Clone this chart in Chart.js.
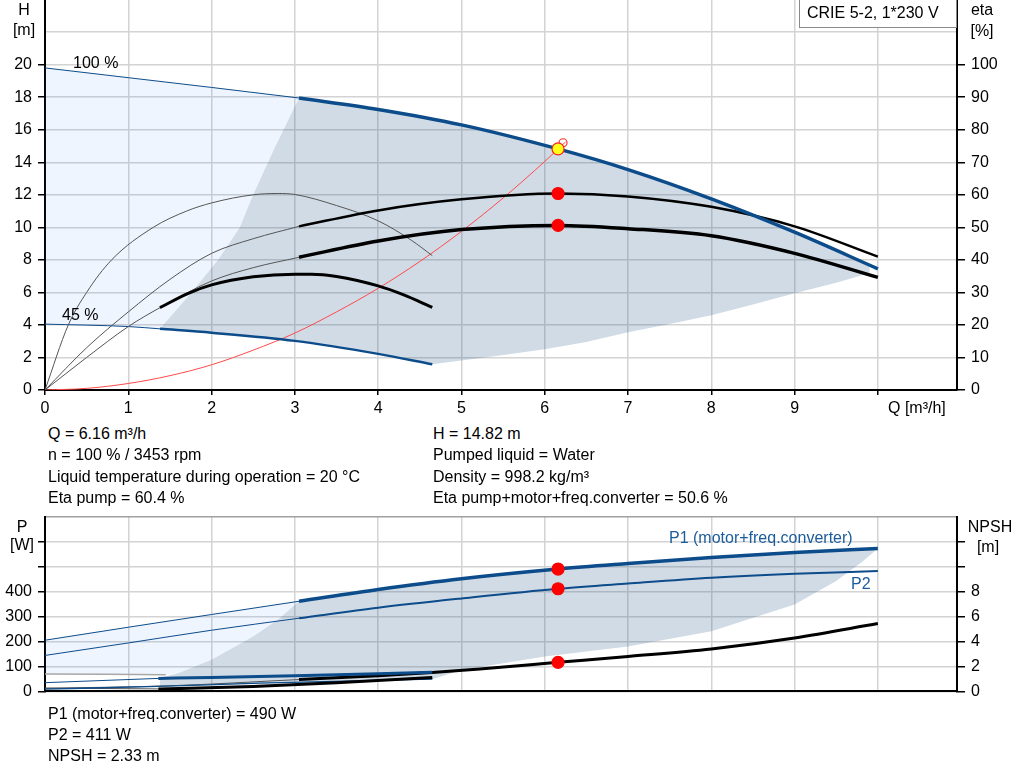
<!DOCTYPE html>
<html lang="en">
<head>
    <meta charset="UTF-8">
    <title>CRIE 5-2 pump curves</title>
    <script src="https://cdn.jsdelivr.net/npm/chart.js"></script>
    <style>
        body { margin: 0; background: #fff; font-family: "Liberation Sans", Arial, sans-serif; font-size: 16px; color: #000; }
        #page { position: relative; width: 1024px; height: 781px; overflow: hidden; }
        canvas { position: absolute; left: 0; }
        .t { position: absolute; white-space: nowrap; line-height: 18px; z-index: 2; }
        .c { text-align: center; }
        .blue { color: #1b5c9c; }
        #model { position: absolute; left: 799px; top: -1px; width: 158px; height: 29px; border: 1px solid #8a8a8a; box-sizing: border-box; background: #fff; z-index: 2; }
    </style>
</head>
<body>
<div id="page">
    <div class="t c" style="left:4px;width:40px;top:1px">H</div>
    <div class="t c" style="left:4px;width:40px;top:21px">[m]</div>
    <div class="t c" style="left:962px;width:40px;top:1px">eta</div>
    <div class="t c" style="left:962px;width:40px;top:22px">[%]</div>
    <div id="model"><div class="t" style="left:7px;top:4px">CRIE 5-2, 1*230 V</div></div>
    <div class="t" style="left:73px;top:54px">100 %</div>
    <div class="t" style="left:62px;top:306px">45 %</div>
    <div class="t" style="left:888px;top:399px">Q [m³/h]</div>

    <div class="t" style="left:48px;top:425px">Q = 6.16 m³/h</div>
    <div class="t" style="left:48px;top:446px">n = 100 % / 3453 rpm</div>
    <div class="t" style="left:48px;top:468px">Liquid temperature during operation = 20 °C</div>
    <div class="t" style="left:48px;top:489px">Eta pump = 60.4 %</div>
    <div class="t" style="left:433px;top:425px">H = 14.82 m</div>
    <div class="t" style="left:433px;top:446px">Pumped liquid = Water</div>
    <div class="t" style="left:433px;top:468px">Density = 998.2 kg/m³</div>
    <div class="t" style="left:433px;top:489px">Eta pump+motor+freq.converter = 50.6 %</div>

    <div class="t c" style="left:2px;width:40px;top:518px">P</div>
    <div class="t c" style="left:2px;width:40px;top:536px">[W]</div>
    <div class="t c" style="left:966px;width:48px;top:518px">NPSH</div>
    <div class="t c" style="left:966px;width:44px;top:538px">[m]</div>
    <div class="t blue" style="left:669px;top:529px">P1 (motor+freq.converter)</div>
    <div class="t blue" style="left:851px;top:575px">P2</div>

    <div class="t" style="left:48px;top:705px">P1 (motor+freq.converter) = 490 W</div>
    <div class="t" style="left:48px;top:726px">P2 = 411 W</div>
    <div class="t" style="left:48px;top:747px">NPSH = 2.33 m</div>
</div>

<script>
    // ---- head / efficiency chart data (Q in m³/h) ----
    const head100Thin = [[0, 19.8], [1, 19.2], [2, 18.6], [3.05, 17.95]];
    const head100 = [[3.05, 17.95], [4, 17.25], [5, 16.3], [6.16, 14.82], [7, 13.55], [8, 11.75], [9, 9.7], [10, 7.45]];
    const head45Thin = [[0, 4.05], [1, 3.9], [1.38, 3.76]];
    const head45 = [[1.38, 3.76], [2, 3.52], [3, 3.02], [4, 2.22], [4.65, 1.58]];
    const systemCurve = [[0, 0], [0.5, 0.1], [1, 0.4], [1.5, 0.88], [2, 1.55], [2.5, 2.45], [3, 3.5], [3.5, 4.8],
        [4, 6.25], [4.5, 7.9], [5, 9.75], [5.5, 11.8], [6, 14.05], [6.16, 14.82], [6.25, 15.25]];

    const etaPump100Thin = [[0, 0], [0.5, 13], [1, 24], [1.5, 34], [2, 42], [2.5, 46.5], [3.05, 50.3]];
    const etaPump100 = [[3.05, 50.3], [4, 55.2], [5, 58.6], [6.16, 60.4], [7, 59.5], [8, 56.3], [9, 50.3], [10, 41]];
    const etaTotal100Thin = [[0, 0], [0.5, 10], [1, 19.5], [1.38, 25.3], [2, 33.5], [2.5, 37.6], [3.05, 40.8]];
    const etaTotal100 = [[3.05, 40.8], [4, 45.8], [5, 49.3], [6.16, 50.6], [7, 49.6], [8, 47.4], [9, 42], [10, 34.6]];
    const etaTotal45 = [[1.38, 25.3], [1.7, 29.5], [2, 32.3], [2.5, 34.8], [3, 35.6], [3.2, 35.6], [3.5, 34.9],
        [4, 32], [4.3, 29.3], [4.65, 25.4]];
    const etaPump45 = [[0, 0], [0.28, 20], [0.5, 30], [0.8, 40], [1.3, 50], [1.7, 55], [2, 57.5], [2.5, 60],
        [2.8, 60.4], [3, 60.1], [3.5, 56.7], [4, 52], [4.4, 46], [4.65, 41.3]];

    const dutyPoint = [[6.16, 14.82]];
    const dutyMarker = [[6.22, 15.2]];
    const etaDots = [[6.16, 60.4], [6.16, 50.6]];

    const rangeLight = [[0, 19.8], [1, 19.2], [2, 18.6], [3.05, 17.95], [2.75, 14.8], [2.5, 12], [2.34, 10],
        [2.08, 8], [1.76, 6], [1.38, 3.76], [1, 3.9], [0, 4.05]];
    const rangeDark = [[3.05, 17.95], [3.5, 17.65], [4, 17.25], [4.5, 16.8], [5, 16.3], [5.6, 15.6], [6.16, 14.82],
        [7, 13.55], [7.5, 12.7], [8, 11.75], [8.5, 10.75], [9, 9.7], [9.5, 8.6], [9.9, 7.68], [9.9, 7.2],
        [9.5, 6.6], [9, 5.95], [8.5, 5.25], [8, 4.6], [7.5, 4.05], [7, 3.55], [6.5, 2.95], [6, 2.5], [5.46, 2.12],
        [4.65, 1.58], [4, 2.22], [3, 3.02], [2, 3.52], [1.38, 3.76], [1.76, 6], [2.08, 8], [2.34, 10],
        [2.5, 12], [2.75, 14.8], [3.05, 17.95]];

    // ---- power / NPSH chart data ----
    const p1Thin = [[0, 205], [1, 257], [2, 308], [3.05, 361]];
    const p1 = [[3.05, 361], [4, 408], [5, 451], [6.16, 490], [7, 512], [8, 536], [9, 556], [10, 572]];
    const p2Thin = [[0, 144], [1, 194], [2, 245], [3.05, 293]];
    const p2 = [[3.05, 293], [4, 335], [5, 372], [6.16, 411], [7, 432], [8, 455], [9, 471], [10, 482]];
    const p1Low45Thin = [[0, 35], [1.36, 52]];
    const p1Low45 = [[1.36, 52], [2, 56], [3, 63], [4, 71], [4.65, 77]];
    const p2Low45 = [[0, 9], [1.36, 20], [2.58, 33], [4.65, 49]];
    const pEdge = [[0, 70], [1.45, 67]];
    const npsh100Thin = [[0, 0.25], [1.5, 0.45], [3.05, 0.95]];
    const npsh100 = [[3.05, 0.95], [4, 1.25], [4.65, 1.52], [5.22, 1.8], [6.16, 2.33], [7, 2.8], [8, 3.4], [9, 4.28], [10, 5.43]];
    const npsh45Thin = [[0, 0.26], [1.36, 0.2]];
    const npsh45 = [[1.36, 0.2], [2.5, 0.4], [3.5, 0.7], [4.65, 1.12]];
    const powerDots = [[6.16, 490], [6.16, 411]];
    const npshDots = [[6.16, 2.33]];

    const pRangeLight = [[0, 205], [1, 257], [2, 308], [3.05, 361], [2.8, 288], [2.5, 220], [2, 127],
        [1.6, 73], [1.45, 66], [0, 70]];
    const pRangeDark = [[3.05, 361], [4, 408], [5, 451], [6.16, 490], [7, 512], [8, 536], [9, 556], [10, 572],
        [9.8, 516], [9.5, 442], [9, 348], [8, 241], [7, 180], [6, 140], [5.5, 113], [5, 86], [4.65, 49],
        [2.58, 33], [1.38, 20], [1.38, 55], [1.6, 73], [2, 127], [2.5, 220], [2.8, 288], [3.05, 361]];

    const xTicks = [0, 1, 2, 3, 4, 5, 6, 7, 8, 9, 10];

    const BLUE = '#0d4c8b';
    const GRID = '#d3d3d3';
    const FONT = {family: '"Liberation Sans", Arial, sans-serif', size: 16};
    const LIGHT = 'rgba(60,140,240,0.087)';
    const DARK = 'rgba(40,90,140,0.22)';

    function pts(arr) {
        return arr.map(p => ({x: p[0], y: p[1]}));
    }

    function curve(data, axis, color, width, order) {
        return {
            data: pts(data), yAxisID: axis, borderColor: color, borderWidth: width,
            pointRadius: 0, fill: false, order: order, cubicInterpolationMode: 'monotone'
        };
    }

    function area(data, axis, color, order) {
        return {
            data: pts(data), yAxisID: axis, borderWidth: 0, borderColor: 'rgba(0,0,0,0)',
            backgroundColor: color, pointRadius: 0, fill: 'shape', tension: 0, order: order
        };
    }

    function dots(data, axis, fillColor, edge, radius, order) {
        return {
            data: pts(data), yAxisID: axis, showLine: false, pointRadius: radius,
            pointBackgroundColor: fillColor, pointBorderColor: edge, pointBorderWidth: 1.2, order: order
        };
    }

    function xScale(showTicks, height) {
        return {
            type: 'linear', min: 0, max: 10.95,
            afterBuildTicks: s => { s.ticks = xTicks.map(v => ({value: v})); },
            ticks: {
                display: showTicks, font: FONT, color: '#000', padding: 4, maxRotation: 0, autoSkip: false,
                callback: v => (v <= 9 ? v : '')
            },
            grid: {color: GRID, lineWidth: 1.5, drawTicks: showTicks, tickLength: 5, tickColor: '#000', tickWidth: 1.5},
            border: {color: '#000', width: 2},
            afterFit: s => { s.height = height; }
        };
    }

    function yScale(pos, min, max, step, labelMax, tickMax, width, tickLen, onChart, topColor) {
        return {
            type: 'linear', position: pos, min: min, max: max,
            ticks: {
                stepSize: step, font: FONT, color: '#000', padding: 6,
                callback: v => (v <= labelMax ? v : '')
            },
            grid: {
                drawOnChartArea: onChart, lineWidth: 1.5, tickLength: tickLen, tickWidth: 1.5,
                color: c => (c.tick && c.tick.value >= max ? topColor : GRID),
                tickColor: c => (c.tick && c.tick.value > tickMax ? 'rgba(0,0,0,0)' : '#000')
            },
            border: {color: '#000', width: 2},
            afterFit: s => { s.width = width; }
        };
    }

    function baseOptions(scales) {
        return {
            responsive: false, animation: false, devicePixelRatio: 1,
            plugins: {legend: {display: false}, tooltip: {enabled: false}},
            layout: {autoPadding: false, padding: 0},
            scales: scales
        };
    }

    function headConfig() {
        return {
            type: 'line',
            data: {
                datasets: [
                    area(rangeLight, 'y', LIGHT, 20),
                    area(rangeDark, 'y', DARK, 19),
                    curve(systemCurve, 'y', '#ff4a4a', 1, 8),
                    curve(etaPump45, 'y2', '#555', 1, 7),
                    curve(etaPump100Thin, 'y2', '#555', 1, 7),
                    curve(etaTotal100Thin, 'y2', '#555', 1, 7),
                    curve(head100Thin, 'y', BLUE, 1, 7),
                    curve(head45Thin, 'y', BLUE, 1, 7),
                    curve(etaPump100, 'y2', '#000', 2.5, 5),
                    curve(etaTotal100, 'y2', '#000', 3.5, 5),
                    curve(etaTotal45, 'y2', '#000', 3, 5),
                    curve(head45, 'y', BLUE, 2.5, 4),
                    curve(head100, 'y', BLUE, 3.5, 4),
                    dots(dutyMarker, 'y', 'rgba(0,0,0,0)', '#ff3030', 4, 3),
                    dots(etaDots, 'y2', '#ff0000', '#ff0000', 6, 2),
                    dots(dutyPoint, 'y', '#ffff1a', '#ff2020', 6, 1)
                ]
            },
            options: baseOptions({
                x: xScale(true, 30),
                y: yScale('left', 0, 24, 2, 20, 20, 45, 7, true, 'rgba(0,0,0,0)'),
                y2: yScale('right', 0, 120, 10, 100, 100, 67, 8, false, 'rgba(0,0,0,0)')
            })
        };
    }

    function powerConfig() {
        return {
            type: 'line',
            data: {
                datasets: [
                    area(pRangeLight, 'y', LIGHT, 20),
                    area(pRangeDark, 'y', DARK, 19),
                    curve(pEdge, 'y', '#a8a8a8', 1.5, 8),
                    curve(p1Thin, 'y', BLUE, 1, 7),
                    curve(p2Thin, 'y', BLUE, 1, 7),
                    curve(p1Low45Thin, 'y', BLUE, 1, 7),
                    curve(p2Low45, 'y', BLUE, 1.3, 7),
                    curve(npsh100Thin, 'y2', '#555', 1, 7),
                    curve(npsh45Thin, 'y2', '#555', 1, 7),
                    curve(npsh45, 'y2', '#000', 3, 6),
                    curve(npsh100, 'y2', '#000', 3, 6),
                    curve(p1Low45, 'y', BLUE, 3, 5),
                    curve(p2, 'y', BLUE, 2, 4),
                    curve(p1, 'y', BLUE, 3.5, 4),
                    dots(powerDots, 'y', '#ff0000', '#ff0000', 6, 2),
                    dots(npshDots, 'y2', '#ff0000', '#ff0000', 6, 2)
                ]
            },
            options: baseOptions({
                x: xScale(false, 9),
                y: yScale('left', 0, 700, 100, 400, 600, 45, 7, true, '#a0a0a0'),
                y2: yScale('right', 0, 14, 2, 8, 12, 67, 8, false, 'rgba(0,0,0,0)')
            })
        };
    }

    const page = document.getElementById('page');

    function addCanvas(top, height) {
        const cv = document.createElement('canvas');
        cv.width = 1024;
        cv.height = Math.round(height);
        cv.style.top = Math.round(top) + 'px';
        page.insertBefore(cv, page.firstChild);
        return cv;
    }

    // place a chart so its plot area spans areaTop..areaBottom on the page
    function placeChart(makeConfig, areaTop, areaBottom, axisHeight) {
        const h0 = areaBottom - areaTop + axisHeight;
        let cv = addCanvas(areaTop, h0);
        let chart = new Chart(cv, makeConfig());
        const above = Math.round(chart.chartArea.top);
        const below = Math.round(h0 - chart.chartArea.bottom);
        if (above !== 0 || below !== axisHeight) {
            chart.destroy();
            cv.remove();
            cv = addCanvas(areaTop - above, areaBottom - areaTop + above + below);
            chart = new Chart(cv, makeConfig());
        }
        return chart;
    }

    placeChart(headConfig, 0, 390, 30);
    placeChart(powerConfig, 517, 691, 9);
</script>
</body>
</html>
